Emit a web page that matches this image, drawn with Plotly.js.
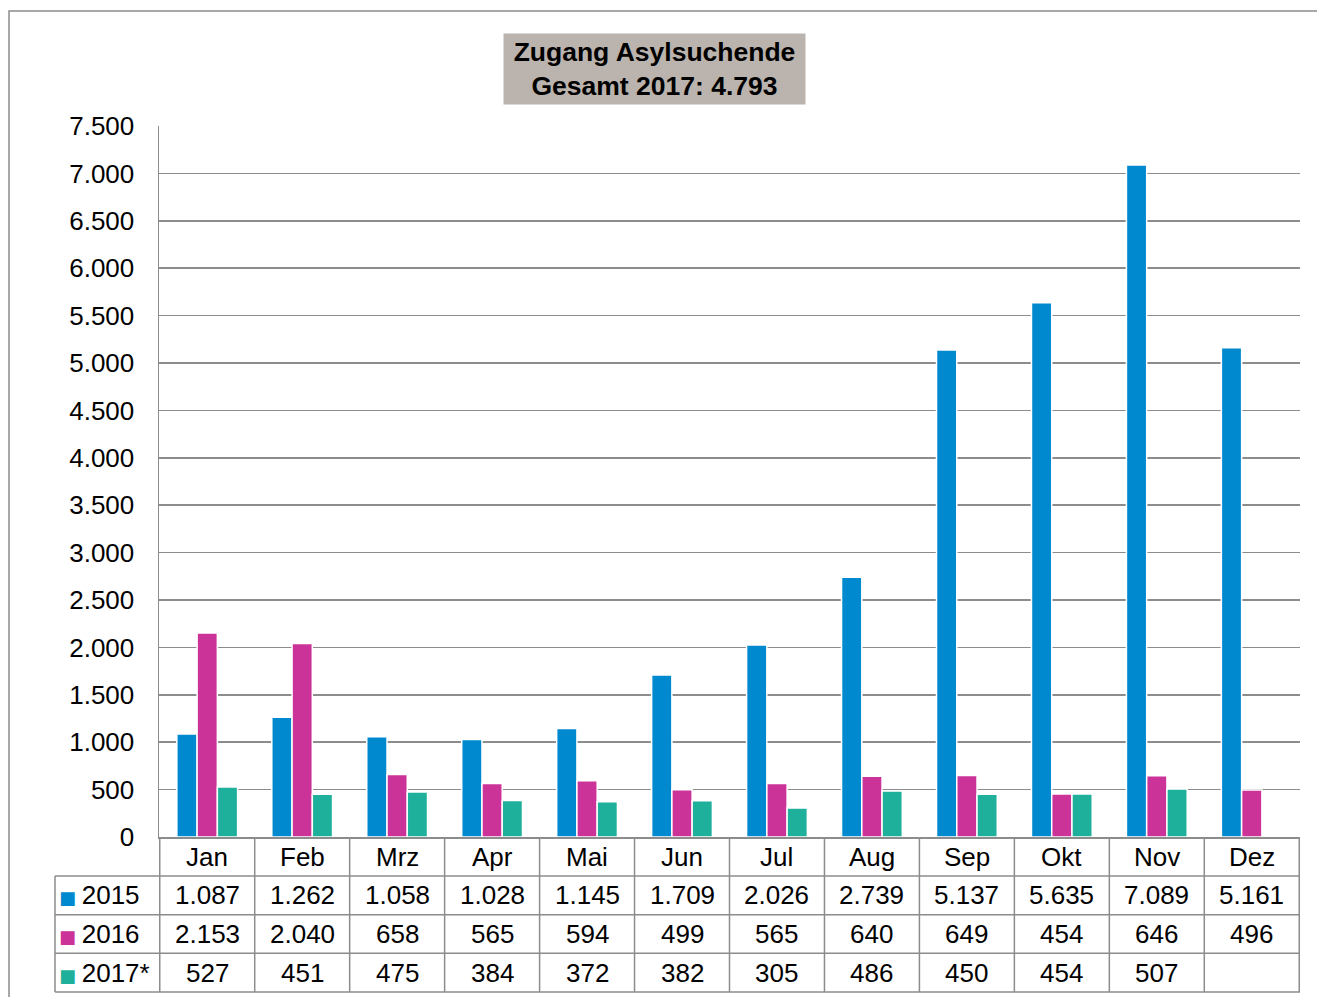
<!DOCTYPE html>
<html>
<head>
<meta charset="utf-8">
<script src="https://cdn.plot.ly/plotly-3.0.1.min.js"></script>
<style>html,body{margin:0;padding:0;background:#fff;}#chart{width:1317px;height:997px;}</style>
</head>
<body>
<div id="chart"></div>
<script>
// ---- data ----
const months = ['Jan','Feb','Mrz','Apr','Mai','Jun','Jul','Aug','Sep','Okt','Nov','Dez'];
const seriesNames = ['2015','2016','2017*'];
const values2015 = [1087,1262,1058,1028,1145,1709,2026,2739,5137,5635,7089,5161];
const values2016 = [2153,2040,658,565,594,499,565,640,649,454,646,496];
const values2017 = [527,451,475,384,372,382,305,486,450,454,507,null];
const seriesColors = ['#0089cf','#cc3399','#1fb09c'];
const titleLine1 = 'Zugang Asylsuchende';
const titleLine2 = 'Gesamt 2017: ';

// ---- helpers ----
const series = [values2015, values2016, values2017];
function fmt(n){ return (n === null || n === undefined) ? '' : String(n).replace(/\B(?=(\d{3})+(?!\d))/g,'.'); }
const total2017 = values2017.reduce((a,b)=>a+(b||0),0);

const W = 1317, H = 997;
const mL = 55, mR = 17, mT = 126, mB = 160;
const plotW = W - mL - mR, plotH = H - mT - mB;
const axisY = H - mB;           // 837
const xStartPx = 159;
const px2x = px => (px - mL) / plotW;
const px2y = py => (axisY - py) / plotH;
const gray = '#8c8c8c';
const FONT = 'Liberation Sans, Arial, sans-serif';

const traces = series.map((vals,i)=>({
  type:'bar', name:seriesNames[i], x:months, y:vals,
  marker:{color:seriesColors[i], line:{color:'#ffffff', width:1.5}},
  hoverinfo:'skip'
}));

// table rows (below the axis)
const headerBottom = 876, tableBottom = 992;
const rowH = (tableBottom - headerBottom) / series.length;
const shapes = [];
const annotations = [];

// outer frame
shapes.push({type:'rect', xref:'paper', yref:'paper', x0:px2x(9), x1:px2x(1340), y0:px2y(11), y1:px2y(1010), line:{color:gray, width:1.5}});

// horizontal table lines
[headerBottom, headerBottom+rowH, headerBottom+2*rowH, tableBottom].forEach(py=>{
  shapes.push({type:'line', xref:'paper', yref:'paper', x0:0, x1:1, y0:px2y(py), y1:px2y(py), line:{color:gray, width:1.5}});
});
// left border of legend column
shapes.push({type:'line', xref:'paper', yref:'paper', x0:0, x1:0, y0:px2y(headerBottom), y1:px2y(tableBottom), line:{color:gray, width:1.5}});
// vertical category boundaries
for (let i=0;i<=months.length;i++){
  shapes.push({type:'line', xref:'x', yref:'paper', x0:i-0.5, x1:i-0.5, y0:0, y1:px2y(tableBottom), line:{color:gray, width:1.5}});
}

// month header row
months.forEach(m=>{
  annotations.push({xref:'x', yref:'paper', x:m, y:px2y((axisY+headerBottom)/2), xanchor:'center', yanchor:'middle', showarrow:false,
    text:m, font:{family:FONT, size:26, color:'#000'}});
});

// cell values
series.forEach((vals,r)=>{
  const cy = px2y(headerBottom + rowH*(r+0.5));
  annotations.push({xref:'paper', yref:'paper', x:px2x(57), y:cy, xanchor:'left', yanchor:'middle', showarrow:false,
    text:'<span style="color:'+seriesColors[r]+';font-family:DejaVu Sans;font-size:18px">■ </span>'+seriesNames[r],
    font:{family:FONT, size:26, color:'#000'}});
  vals.forEach((v,c)=>{
    annotations.push({xref:'x', yref:'paper', x:months[c], y:cy, xanchor:'center', yanchor:'middle', showarrow:false,
      text:fmt(v), font:{family:FONT, size:26, color:'#000'}});
  });
});

// title box
annotations.push({xref:'paper', yref:'paper', x:px2x(654.5), y:px2y(69), xanchor:'center', yanchor:'middle', showarrow:false,
  text:'<b>'+titleLine1+'<br>'+titleLine2+fmt(total2017)+'</b>', width:301, height:70, borderpad:0,
  bgcolor:'#bbb3ad', font:{family:FONT, size:26.5, color:'#000'}});

const layout = {
  width:W, height:H, margin:{l:mL, r:mR, t:mT, b:mB, pad:0},
  paper_bgcolor:'#fff', plot_bgcolor:'#fff',
  separators:',.',
  showlegend:false, barmode:'group', bargap:0.36, bargroupgap:0,
  font:{family:FONT, size:26, color:'#000'},
  xaxis:{type:'category', domain:[px2x(xStartPx),1], showgrid:false, zeroline:false,
    showline:true, linecolor:gray, linewidth:1.5, ticks:'', showticklabels:false, fixedrange:true},
  yaxis:{range:[0,7500], dtick:500, tick0:0, tickformat:',d', showgrid:true, gridcolor:gray, gridwidth:1.5,
    zeroline:false, showline:true, linecolor:gray, linewidth:1.5, ticks:'', ticklabelstandoff:18,
    tickfont:{family:FONT, size:26, color:'#000'}, fixedrange:true},
  shapes:shapes, annotations:annotations
};

Plotly.newPlot('chart', traces, layout, {staticPlot:true, displayModeBar:false});
</script>
</body>
</html>
